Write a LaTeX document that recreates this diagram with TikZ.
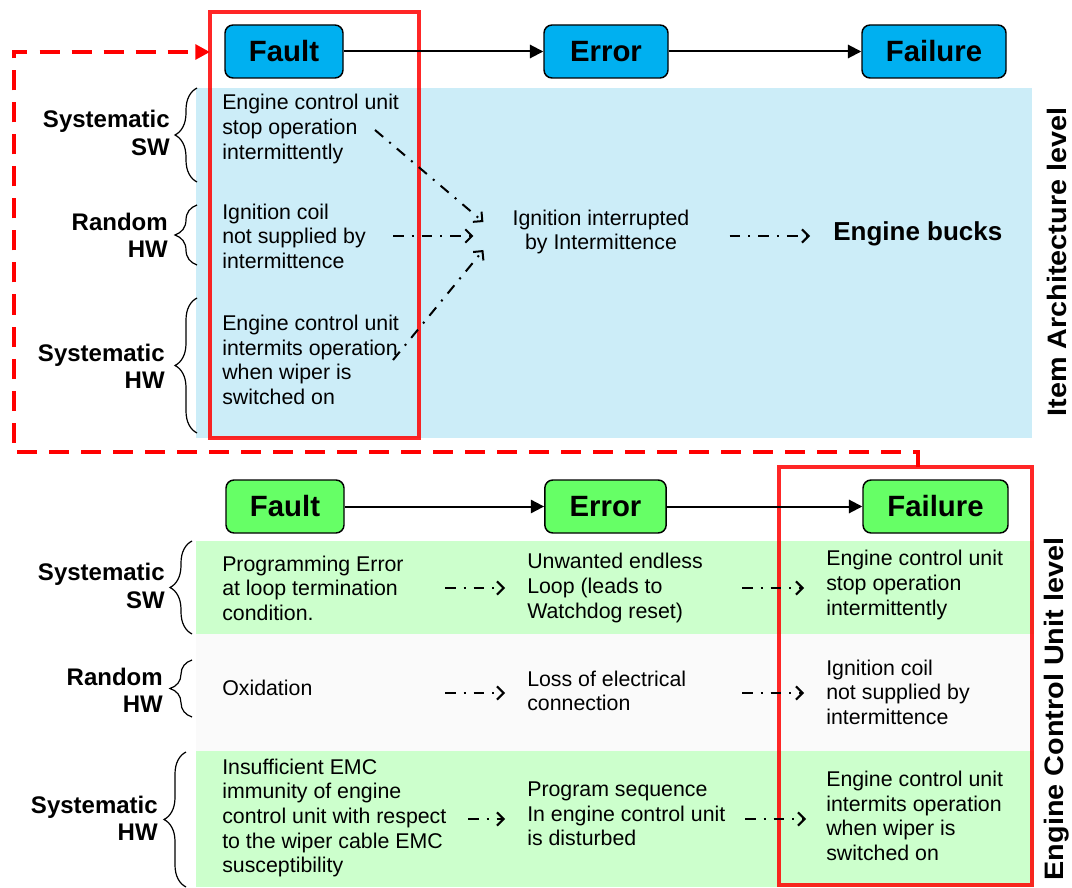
\documentclass[tikz,border=0pt]{standalone}
\usepackage{fontspec}
\setmainfont{Liberation Sans}
\usepackage{xcolor}
\usepackage{tikz}
\usetikzlibrary{arrows.meta,positioning,calc,decorations.pathreplacing}
\definecolor{FaultBlue}{HTML}{00B0F0}
\definecolor{FaultGreen}{HTML}{66FF66}
\definecolor{SkyBand}{HTML}{CCEDF8}
\definecolor{MintBand}{HTML}{CCFFCC}
\definecolor{GreyBand}{HTML}{FAFAFA}

\begin{document}
\begin{tikzpicture}[x=0.75pt,y=-0.75pt,
		hdr/.style={draw,rounded corners=6pt,line width=1.1pt,minimum height=39.75pt,inner sep=0pt,font=\bfseries\fontsize{22}{26}\selectfont},
		txt/.style={anchor=west,inner sep=0pt,align=left,font=\fontsize{16}{18.4}\selectfont},
		lvl/.style={anchor=east,inner sep=0pt,align=right,font=\bfseries\fontsize{18}{20.5}\selectfont},
		side/.style={rotate=90,xscale=1.08,inner sep=0pt,font=\bfseries\fontsize{20}{22}\selectfont},
		flow/.style={line width=1.5pt,-{Triangle[length=10pt,width=10pt]}},
		dd/.style={line width=1.5pt,dash pattern=on 8pt off 6pt on 1.5pt off 6pt,-{Straight Barb[length=5pt,width=10pt]}},
		brc/.style={decorate,decoration={brace,amplitude=16.5pt},line width=0.9pt},
		redbox/.style={draw=red,draw opacity=0.85,line width=3pt,inner sep=0pt,outer sep=0pt}]
		\useasboundingbox (0,0) rectangle (1072,888);
		% background bands
		\fill[SkyBand] (196,88) rectangle (1032,438);
		\fill[MintBand] (196,541) rectangle (1034,634);
		\fill[GreyBand] (196,634) rectangle (1034,751);
		\fill[MintBand] (196,751) rectangle (1034,887);
		% selection frames
		\node[redbox,minimum width=156.75pt,minimum height=319.5pt] (topsel) at (314.5,225) {};
		\node[redbox,minimum width=189.75pt,minimum height=313.5pt] (botsel) at (905.5,676) {};
		\draw[red,line width=3pt,dash pattern=on 15pt off 9pt,-{Triangle[length=11pt,width=11pt]}]
			([xshift=9pt]botsel.north) -- ++(0,-15) -| (14,52) -- (topsel.west |- 0,52);

		% item architecture level
		\node[hdr,fill=FaultBlue,minimum width=88.5pt] (fault1) at (284,51.5) {Fault};
		\node[hdr,fill=FaultBlue,minimum width=93pt] (error1) at (606,51.5) {Error};
		\node[hdr,fill=FaultBlue,minimum width=108pt] (failure1) at (934,51.5) {Failure};
		\draw[flow] (fault1) -- (error1);
		\draw[flow] (error1) -- (failure1);

		\node[lvl] (lsa) at (170,133) {Systematic\\SW};
		\node[lvl] (lra) at (168,235) {Random\\HW};
		\node[lvl] (lha) at (165,366) {Systematic\\HW};
		\draw[brc] (197,182) -- (197,88);
		\draw[brc] (197,265) -- (197,205);
		\draw[brc] (197,433) -- (197,298);

		\node[txt] (ta) at (222,129) {Engine control unit\\stop operation\\intermittently};
		\node[txt] (tb) at (222,236) {Ignition coil\\not supplied by\\intermittence};
		\node[txt] (tc) at (222,360) {Engine control unit\\intermits operation\\when wiper is\\switched on};
		\node[txt,anchor=center,align=center] (ign) at (601,232) {Ignition interrupted\\by Intermittence};
		\node[txt,font=\bfseries\fontsize{19.5}{22}\selectfont] (bucks) at (833,234) {Engine bucks};
		\draw[dd] ([shift={(153,1)}]ta.west) -- ([shift={(-29,-10)}]ign.west);
		\draw[dd] ([shift={(171,0)}]tb.west) -- ([shift={(-39,4)}]ign.west);
		\draw[dd] ([shift={(171,0)}]tc.west) -- ([shift={(-29,18)}]ign.west);
		\draw[dd] ([shift={(40,4)}]ign.east) -- ([shift={(-23,2)}]bucks.west);
		\node[side] (archlvl) at (1057,262) {Item Architecture level};

		% engine control unit level
		\node[hdr,fill=FaultGreen,minimum width=88.5pt] (fault2) at (285,506.5) {Fault};
		\node[hdr,fill=FaultGreen,minimum width=91pt] (error2) at (605.5,506.5) {Error};
		\node[hdr,fill=FaultGreen,minimum width=108.75pt] (failure2) at (935.5,506.5) {Failure};
		\draw[flow] (fault2) -- (error2);
		\draw[flow] (error2) -- (failure2);

		\node[lvl] (lsb) at (165,586) {Systematic\\SW};
		\node[lvl] (lrb) at (163,690) {Random\\HW};
		\node[lvl] (lhb) at (158,818) {Systematic\\HW};
		\draw[brc] (192,634) -- (192,541);
		\draw[brc] (192,717) -- (192,660);
		\draw[brc] (186,887) -- (186,752);

		\node[txt] (fa) at (222,588) {Programming Error\\at loop termination\\condition.};
		\node[txt] (fb) at (222,688) {Oxidation};
		\node[txt] (fc) at (222,818) {Insufficient EMC\\immunity of engine\\control unit with respect\\to the wiper cable EMC\\susceptibility};
		\node[txt] (ea) at (527,588) {Unwanted endless\\Loop (leads to\\Watchdog reset)};
		\node[txt] (eb) at (527,691) {Loss of electrical\\connection};
		\node[txt] (ec) at (527,814) {Program sequence\\In engine control unit\\is disturbed};
		\node[txt] (ga) at (826,585) {Engine control unit\\stop operation\\intermittently};
		\node[txt] (gb) at (826,692) {Ignition coil\\not supplied by\\intermittence};
		\node[txt] (gc) at (826,816) {Engine control unit\\intermits operation\\when wiper is\\switched on};
		\draw[dd] ([shift={(223,0)}]fa.west) -- ([shift={(-22,0)}]ea.west);
		\draw[dd] ([shift={(223,5)}]fb.west) -- ([shift={(-22,2)}]eb.west);
		\draw[dd] ([shift={(246,1)}]fc.west) -- ([shift={(-22,5)}]ec.west);
		\draw[dd] ([shift={(215,0)}]ea.west) -- ([shift={(-22,3)}]ga.west);
		\draw[dd] ([shift={(215,2)}]eb.west) -- ([shift={(-22,1)}]gb.west);
		\draw[dd] ([shift={(218,5)}]ec.west) -- ([shift={(-20,3)}]gc.west);
		\node[side] (eculvl) at (1057,709) {Engine Control Unit level};
	\end{tikzpicture}
\end{document}
